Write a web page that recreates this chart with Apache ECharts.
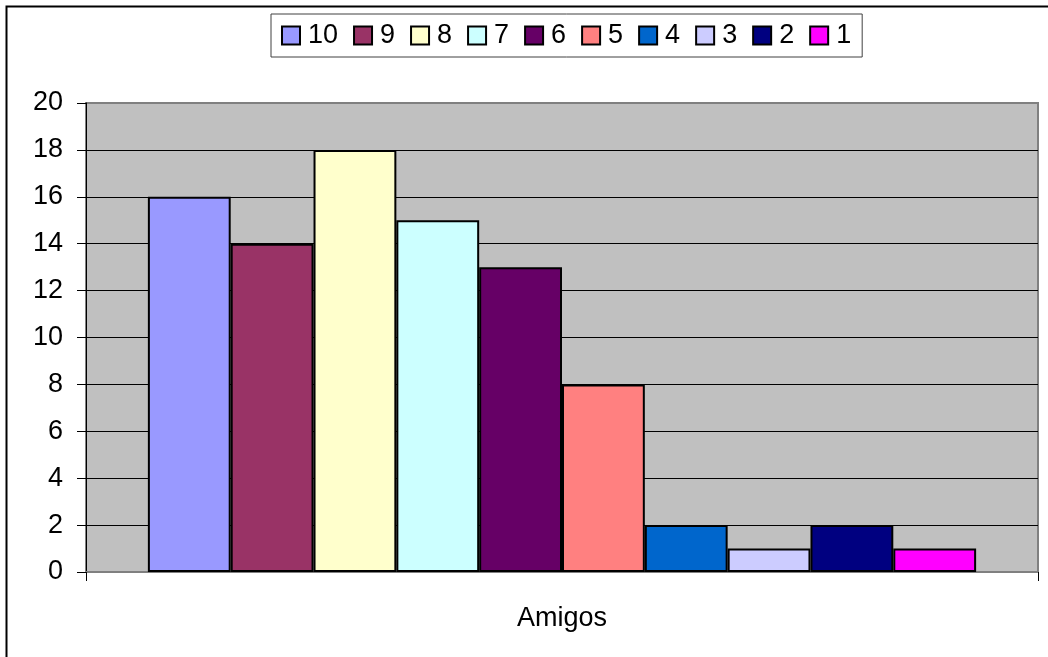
<!DOCTYPE html>
<html>
<head>
<meta charset="utf-8">
<script src="https://cdn.jsdelivr.net/npm/echarts@6/dist/echarts.min.js"></script>
<style>
html,body{margin:0;padding:0;background:#fff;}
#chart{width:1048px;height:657px;}
</style>
</head>
<body>
<div id="chart"></div>
<script>
const categories = ['Amigos'];
const seriesNames = ['10', '9', '8', '7', '6', '5', '4', '3', '2', '1'];
const seriesValues = [16, 14, 18, 15, 13, 8, 2, 1, 2, 1];
const seriesColors = ['#9999FF', '#993366', '#FFFFCC', '#CCFFFF', '#660066', '#FF8080', '#0066CC', '#CCCCFF', '#000080', '#FF00FF'];
const yTicks = [0, 2, 4, 6, 8, 10, 12, 14, 16, 18, 20];

const FONT = '"Liberation Sans", Arial, sans-serif';
const chart = echarts.init(document.getElementById('chart'), null, {renderer: 'canvas'});

const series = seriesNames.map((name, i) => ({
  name: name,
  type: 'bar',
  data: [seriesValues[i]],
  barGap: '0%',
  barCategoryGap: '13%',
  itemStyle: {color: seriesColors[i], borderColor: '#000', borderWidth: 2},
  emphasis: {disabled: true},
  animation: false
}));

const splitColors = yTicks.map((t, i) => (i === 0 || i === yTicks.length - 1) ? '#808080' : '#000');

chart.setOption({
  animation: false,
  backgroundColor: '#fff',
  graphic: [{
    type: 'rect',
    shape: {x: 6.5, y: 6.5, width: 1200, height: 800},
    style: {fill: 'none', stroke: '#000', lineWidth: 2},
    silent: true,
    z: 100
  }],
  legend: {
    left: 271,
    top: 14,
    orient: 'horizontal',
    itemWidth: 18,
    itemHeight: 18,
    itemGap: 15,
    padding: [8, 11, 8, 10],
    borderColor: '#404040',
    borderWidth: 1,
    icon: 'rect',
    itemStyle: {borderColor: '#000', borderWidth: 2},
    textStyle: {fontFamily: FONT, fontSize: 27, color: '#000', lineHeight: 27, padding: [0, 0, 0, 3]},
    data: seriesNames,
    selectedMode: false
  },
  grid: {
    left: 86,
    right: 10,
    top: 103,
    bottom: 85,
    show: true,
    backgroundColor: '#C0C0C0',
    borderColor: '#808080',
    borderWidth: 2
  },
  xAxis: {
    type: 'category',
    data: categories,
    axisLine: {show: true, lineStyle: {color: '#808080', width: 2}},
    axisTick: {show: true, length: 9, lineStyle: {color: '#000', width: 1}},
    axisLabel: {fontFamily: FONT, fontSize: 27, color: '#000', margin: 33},
    splitLine: {show: false}
  },
  yAxis: {
    type: 'value',
    min: yTicks[0],
    max: yTicks[yTicks.length - 1],
    interval: yTicks[1] - yTicks[0],
    axisLine: {show: true, lineStyle: {color: '#000', width: 1}},
    axisTick: {show: true, length: 9, lineStyle: {color: '#000', width: 1}},
    axisLabel: {fontFamily: FONT, fontSize: 27, color: '#000', margin: 23},
    splitLine: {show: true, lineStyle: {color: splitColors, width: 1}}
  },
  series: series
});
</script>
</body>
</html>
